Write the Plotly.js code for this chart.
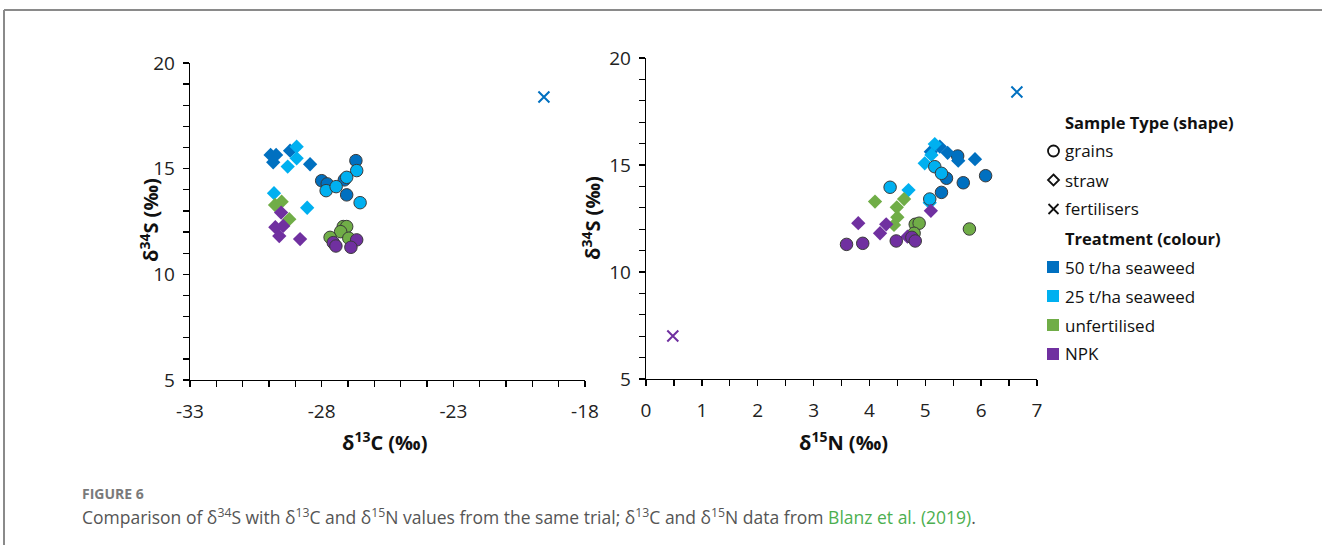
<!DOCTYPE html>
<html><head><meta charset="utf-8">
<script src="https://cdn.plot.ly/plotly-3.0.1.min.js"></script>
<style>html,body{margin:0;padding:0;background:#fff;}#chart{width:1322px;height:545px;}</style>
</head><body><div id="chart"></div>
<script>
// ---------- Left panel: δ13C (x) vs δ34S (y) ----------
const C_grain_sw50 = [-26.70, -28.00, -27.79, -27.14, -27.05];
const S_grain_sw50_C = [15.38, 14.43, 14.28, 14.47, 13.76];
const C_grain_sw25 = [-26.67, -27.83, -27.45, -27.05, -26.54];
const S_grain_sw25_C = [14.91, 13.96, 14.15, 14.59, 13.39];
const C_grain_unf = [-27.18, -27.05, -27.28, -27.68, -26.97];
const S_grain_unf_C = [12.26, 12.26, 12.02, 11.75, 11.71];
const C_grain_npk = [-27.56, -27.46, -26.67, -26.89];
const S_grain_npk_C = [11.50, 11.34, 11.63, 11.28];
const C_straw_sw50 = [-29.94, -29.73, -29.84, -29.20, -28.44];
const S_straw_sw50_C = [15.65, 15.65, 15.30, 15.85, 15.21];
const C_straw_sw25 = [-28.95, -28.95, -29.29, -29.81, -28.55];
const S_straw_sw25_C = [16.04, 15.49, 15.10, 13.84, 13.15];
const C_straw_unf = [-29.77, -29.52, -29.23];
const S_straw_unf_C = [13.28, 13.44, 12.61];
const C_straw_npk = [-29.54, -29.76, -29.46, -29.61, -28.82];
const S_straw_npk_C = [12.92, 12.23, 12.29, 11.81, 11.67];
const C_fert_sw = [-19.56];
const S_fert_sw_C = [18.39];

// ---------- Right panel: δ15N (x) vs δ34S (y) ----------
const N_grain_sw50 = [5.58, 5.38, 5.68, 6.08, 5.29];
const S_grain_sw50_N = [15.42, 14.38, 14.17, 14.50, 13.72];
const N_grain_sw25 = [5.17, 5.29, 4.37, 5.08];
const S_grain_sw25_N = [14.92, 14.61, 13.96, 13.41];
const N_grain_unf = [4.82, 4.89, 5.79, 4.80];
const S_grain_unf_N = [12.23, 12.28, 12.01, 11.81];
const N_grain_npk = [3.59, 3.88, 4.48, 4.76, 4.82];
const S_grain_npk_N = [11.29, 11.34, 11.45, 11.62, 11.45];
const N_straw_sw50 = [5.26, 5.10, 5.40, 5.89, 5.59];
const S_straw_sw50_N = [15.86, 15.62, 15.57, 15.27, 15.20];
const N_straw_sw25 = [5.17, 5.11, 4.99, 4.70, 5.08];
const S_straw_sw25_N = [15.98, 15.47, 15.08, 13.83, 13.24];
const N_straw_unf = [4.10, 4.62, 4.49, 4.50, 4.44];
const S_straw_unf_N = [13.29, 13.41, 13.02, 12.56, 12.20];
const N_straw_npk = [3.80, 4.30, 4.19, 4.68, 5.10];
const S_straw_npk_N = [12.28, 12.23, 11.81, 11.65, 12.86];
const N_fert_sw = [6.64];
const S_fert_sw_N = [18.41];
const N_fert_npk = [0.48];
const S_fert_npk_N = [7.01];

// ---------- Legend / labels ----------
const shapeHeader = "Sample Type (shape)";
const shapeLabels = ["grains", "straw", "fertilisers"];
const colourHeader = "Treatment (colour)";
const treatmentLabels = ["50 t/ha seaweed", "25 t/ha seaweed", "unfertilised", "NPK"];
const xTicksC = [-33, -28, -23, -18];
const xTickTextC = ["-33", "-28", "-23", "-18"];
const xTicksN = [0, 1, 2, 3, 4, 5, 6, 7];
const yTicks = [5, 10, 15, 20];

const COL = {sw50: '#0070C0', sw25: '#00B0F0', unf: '#70AD47', npk: '#7030A0'};
const W = 1322, H = 545;
const px = x => x / W;
const py = y => (H - y) / H;

function grain(x, y, c, xa, ya) {
  return {x, y, xaxis: xa, yaxis: ya, type: 'scatter', mode: 'markers', showlegend: false, hoverinfo: 'skip',
    marker: {symbol: 'circle', size: 12.5, color: c, line: {color: '#3a3a3a', width: 1}}};
}
function straw(x, y, c, xa, ya) {
  return {x, y, xaxis: xa, yaxis: ya, type: 'scatter', mode: 'markers', showlegend: false, hoverinfo: 'skip',
    marker: {symbol: 'diamond', size: 11, color: c, line: {width: 0}}};
}
function fert(x, y, c, xa, ya) {
  return {x, y, xaxis: xa, yaxis: ya, type: 'scatter', mode: 'markers', showlegend: false, hoverinfo: 'skip',
    marker: {symbol: 'x-thin-open', size: 11, color: c, line: {color: c, width: 2}}};
}

const data = [
  grain(C_grain_sw50, S_grain_sw50_C, COL.sw50, 'x', 'y'),
  straw(C_straw_sw50, S_straw_sw50_C, COL.sw50, 'x', 'y'),
  straw(C_straw_sw25, S_straw_sw25_C, COL.sw25, 'x', 'y'),
  grain(C_grain_sw25, S_grain_sw25_C, COL.sw25, 'x', 'y'),
  straw(C_straw_unf, S_straw_unf_C, COL.unf, 'x', 'y'),
  grain(C_grain_unf, S_grain_unf_C, COL.unf, 'x', 'y'),
  straw(C_straw_npk, S_straw_npk_C, COL.npk, 'x', 'y'),
  grain(C_grain_npk, S_grain_npk_C, COL.npk, 'x', 'y'),
  fert(C_fert_sw, S_fert_sw_C, COL.sw50, 'x', 'y'),

  grain(N_grain_sw50, S_grain_sw50_N, COL.sw50, 'x2', 'y2'),
  straw(N_straw_sw50, S_straw_sw50_N, COL.sw50, 'x2', 'y2'),
  straw(N_straw_sw25, S_straw_sw25_N, COL.sw25, 'x2', 'y2'),
  grain(N_grain_sw25, S_grain_sw25_N, COL.sw25, 'x2', 'y2'),
  straw(N_straw_unf, S_straw_unf_N, COL.unf, 'x2', 'y2'),
  grain(N_grain_unf, S_grain_unf_N, COL.unf, 'x2', 'y2'),
  straw(N_straw_npk, S_straw_npk_N, COL.npk, 'x2', 'y2'),
  grain(N_grain_npk, S_grain_npk_N, COL.npk, 'x2', 'y2'),
  fert(N_fert_sw, S_fert_sw_N, COL.sw50, 'x2', 'y2'),
  fert(N_fert_npk, S_fert_npk_N, COL.npk, 'x2', 'y2')
];

const tickFont = {family: 'Open Sans, sans-serif', size: 19, color: '#222'};
function axisBase(extra) {
  return Object.assign({
    showline: true, linecolor: '#000', linewidth: 1.3, mirror: false,
    showgrid: false, zeroline: false, ticks: 'outside', ticklen: 6, tickwidth: 1.3, tickcolor: '#000',
    tickfont: tickFont, fixedrange: true
  }, extra);
}
const minorT = d => ({dtick: d, ticks: 'outside', ticklen: 6, tickwidth: 1.3, tickcolor: '#000', showgrid: false});

const layout = {
  width: W, height: H,
  margin: {l: 0, r: 0, t: 0, b: 0},
  paper_bgcolor: '#fff', plot_bgcolor: '#fff',
  showlegend: false,
  xaxis: axisBase({domain: [px(190), px(585)], range: [-33, -18], tickvals: xTicksC, ticktext: xTickTextC,
    anchor: 'y', ticklabelstandoff: 8, minor: minorT(1)}),
  yaxis: axisBase({domain: [py(380), py(63)], range: [5, 20], tickvals: yTicks, anchor: 'x',
    ticklabelstandoff: 4, minor: minorT(1)}),
  xaxis2: axisBase({domain: [px(646), px(1037)], range: [0, 7], tickvals: xTicksN, anchor: 'y2',
    ticklabelstandoff: 8, minor: minorT(0.5)}),
  yaxis2: axisBase({domain: [py(379), py(58)], range: [5, 20], tickvals: yTicks, anchor: 'x2',
    ticklabelstandoff: 4, minor: minorT(1)}),
  shapes: [],
  annotations: []
};

// frame lines (top and left)
layout.shapes.push({type: 'line', xref: 'paper', yref: 'paper', x0: px(4), x1: 1, y0: py(10), y1: py(10), line: {color: '#8a8a8a', width: 2}});
layout.shapes.push({type: 'line', xref: 'paper', yref: 'paper', x0: px(4), x1: px(4), y0: py(10), y1: 0, line: {color: '#8a8a8a', width: 2}});

const titleFont = {family: 'Open Sans, sans-serif', size: 20, color: '#111'};
function ann(text, x, y, opts) {
  layout.annotations.push(Object.assign({text, xref: 'paper', yref: 'paper', x: px(x), y: py(y),
    showarrow: false, xanchor: 'center', yanchor: 'middle', font: titleFont}, opts || {}));
}
ann('<b>δ<sup>13</sup>C (‰)</b>', 385, 441);
ann('<b>δ<sup>15</sup>N (‰)</b>', 843, 441);
ann('<b>δ<sup>34</sup>S (‰)</b>', 149, 220, {textangle: -90});
ann('<b>δ<sup>34</sup>S (‰)</b>', 591, 218, {textangle: -90});

// legend
const legFont = {family: 'Open Sans, sans-serif', size: 17, color: '#111'};
const legHeadFont = {family: 'Open Sans, sans-serif', size: 16.5, color: '#111'};
const legX = 1063;
ann('<b>' + shapeHeader + '</b>', legX, 122, {xanchor: 'left', font: legHeadFont});
ann('<b>' + colourHeader + '</b>', legX, 238, {xanchor: 'left', font: legHeadFont});
const shapeYs = [151, 180, 209];
shapeLabels.forEach((t, i) => ann(t, legX, shapeYs[i], {xanchor: 'left', font: legFont}));
const trYs = [267, 296, 325, 354];
const trCols = [COL.sw50, COL.sw25, COL.unf, COL.npk];
treatmentLabels.forEach((t, i) => {
  ann(t, legX, trYs[i], {xanchor: 'left', font: legFont});
  layout.shapes.push({type: 'rect', xref: 'paper', yref: 'paper', x0: px(1047), x1: px(1059),
    y0: py(trYs[i] + 6), y1: py(trYs[i] - 6), fillcolor: trCols[i], line: {width: 0}});
});
// legend shape keys
layout.shapes.push({type: 'circle', xref: 'paper', yref: 'paper', x0: px(1048), x1: px(1059), y0: py(shapeYs[0] + 5.5), y1: py(shapeYs[0] - 5.5), line: {color: '#111', width: 1.8}});
{
  const cx = 1053.5, cy = shapeYs[1], r = 5.5;
  const p = (x, y) => px(x) + ',' + py(y);
  layout.shapes.push({type: 'path', xref: 'paper', yref: 'paper',
    path: 'M' + p(cx, cy - r) + ' L' + p(cx + r, cy) + ' L' + p(cx, cy + r) + ' L' + p(cx - r, cy) + ' Z', line: {color: '#111', width: 1.8}});
  const cy2 = shapeYs[2];
  layout.shapes.push({type: 'line', xref: 'paper', yref: 'paper', x0: px(cx - 5), x1: px(cx + 5), y0: py(cy2 - 5), y1: py(cy2 + 5), line: {color: '#111', width: 1.8}});
  layout.shapes.push({type: 'line', xref: 'paper', yref: 'paper', x0: px(cx - 5), x1: px(cx + 5), y0: py(cy2 + 5), y1: py(cy2 - 5), line: {color: '#111', width: 1.8}});
}

// caption
ann('<b>FIGURE 6</b>', 80, 493, {xanchor: 'left', font: {family: 'Open Sans, sans-serif', size: 14, color: '#7a7a7a'}});
ann('Comparison of δ<sup>34</sup>S with δ<sup>13</sup>C and δ<sup>15</sup>N values from the same trial; δ<sup>13</sup>C and δ<sup>15</sup>N data from <span style="color:#4CAF50">Blanz et al. (2019)</span>.',
  80, 516, {xanchor: 'left', font: {family: 'Open Sans, sans-serif', size: 17.5, color: '#555'}});

Plotly.newPlot('chart', data, layout, {displayModeBar: false, staticPlot: true});
</script>
</body></html>
